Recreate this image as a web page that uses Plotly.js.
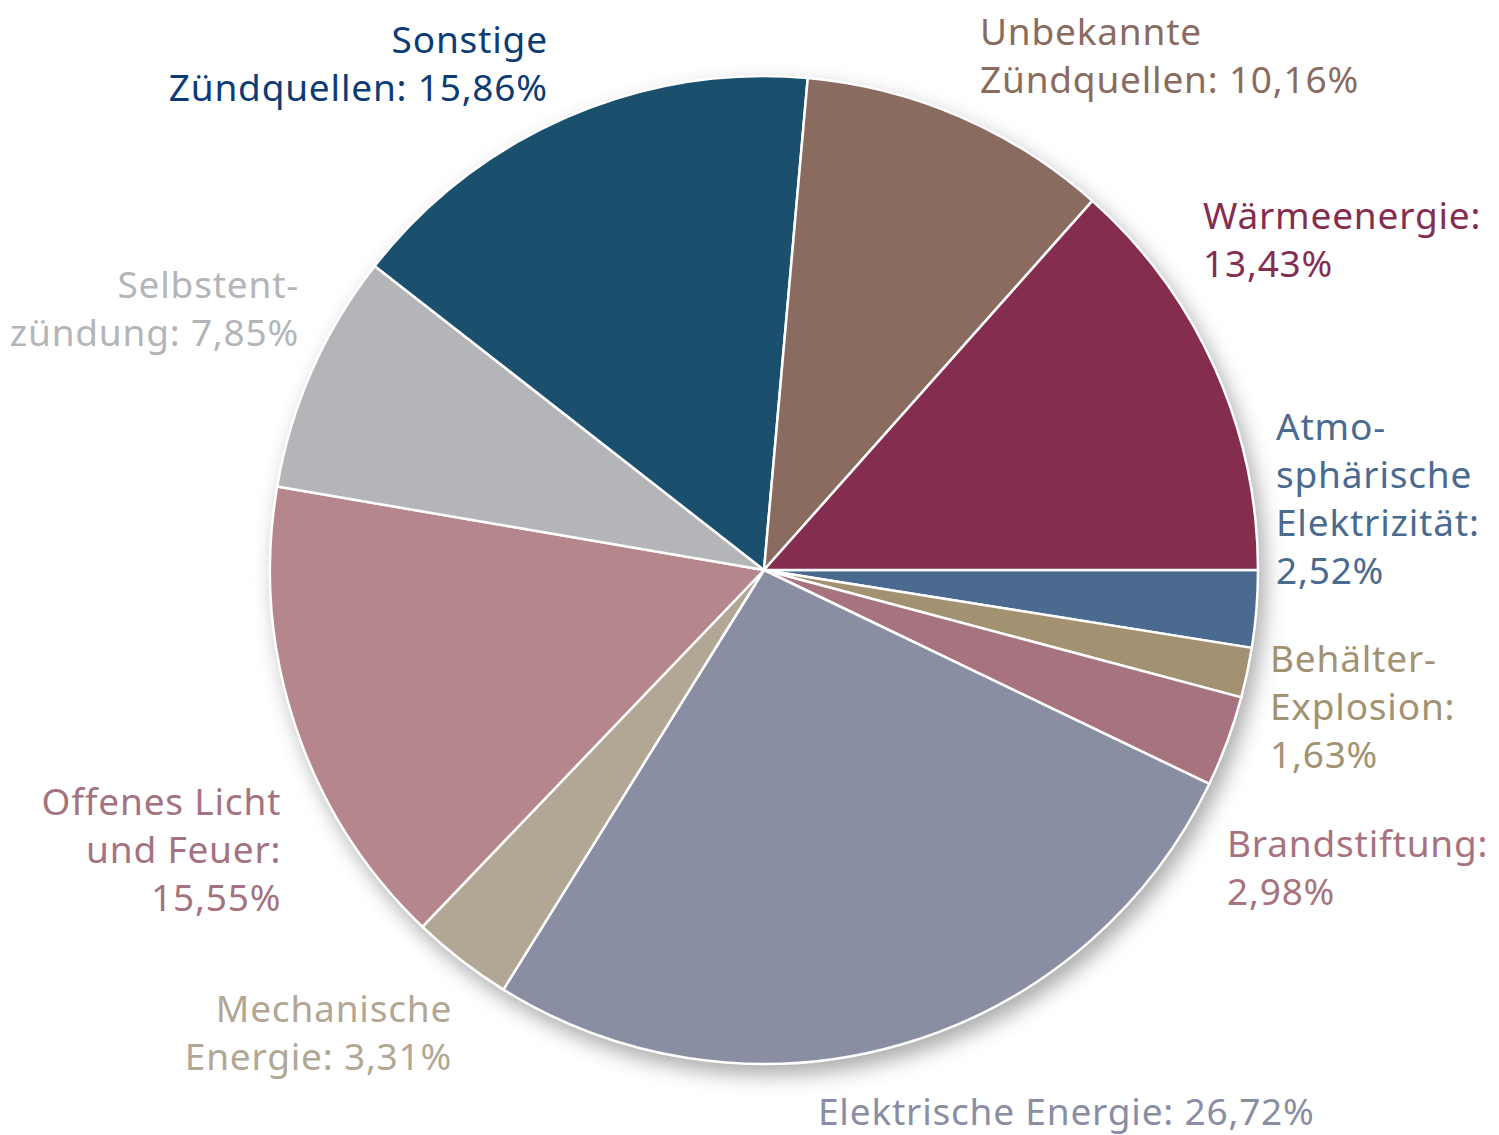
<!DOCTYPE html>
<html>
<head>
<meta charset="utf-8">
<script src="https://cdn.plot.ly/plotly-3.0.1.min.js"></script>
<style>
  html, body { margin: 0; padding: 0; background: #ffffff; }
  #chart { width: 1499px; height: 1135px; }
  #chart .main-svg:first-child { filter: drop-shadow(6px 10px 10px rgba(0,0,0,0.32)); }
  #chart .annotation-text { letter-spacing: 0.8px; }
</style>
</head>
<body>
<div id="chart"></div>
<script>
// Data (clockwise from 3 o'clock)
const labels = [
  "Atmosphärische Elektrizität",
  "Behälter-Explosion",
  "Brandstiftung",
  "Elektrische Energie",
  "Mechanische Energie",
  "Offenes Licht und Feuer",
  "Selbstentzündung",
  "Sonstige Zündquellen",
  "Unbekannte Zündquellen",
  "Wärmeenergie"
];
const values = [2.52, 1.63, 2.98, 26.72, 3.31, 15.55, 7.85, 15.86, 10.16, 13.43];
const sliceColors = ["#4a6a8f", "#a39272", "#a6737e", "#8a8ea3", "#b2a694", "#b5878d", "#b4b5b8", "#1b4f6e", "#8a6b5f", "#842d4f"];
const textColors  = ["#4a6a8f", "#a39272", "#a6737e", "#8a8ea3", "#b2a694", "#a3737f", "#b4b5b8", "#0d3b73", "#8a6b5f", "#842d4f"];
// label text lines (display)
const labelLines = [
  ["Atmo-", "sphärische", "Elektrizität:"],
  ["Behälter-", "Explosion:"],
  ["Brandstiftung:"],
  ["Elektrische Energie:"],
  ["Mechanische", "Energie:"],
  ["Offenes Licht", "und Feuer:"],
  ["Selbstent-", "zündung:"],
  ["Sonstige", "Zündquellen:"],
  ["Unbekannte", "Zündquellen:"],
  ["Wärmeenergie:"]
];
// label placement (pixel anchor, alignment)
const labelPos = [
  {x: 1274, y: 497, side: "left"},
  {x: 1268, y: 705, side: "left"},
  {x: 1225, y: 866, side: "left"},
  {x: 816,  y: 1110, side: "left"},
  {x: 454,  y: 1031, side: "right"},
  {x: 283,  y: 848, side: "right"},
  {x: 301,  y: 308, side: "right"},
  {x: 550,  y: 62,  side: "right"},
  {x: 978,  y: 54,  side: "left"},
  {x: 1201, y: 238, side: "left"}
];
// whether the percentage is appended to the last text line
const pctSameLine = [false, false, false, true, true, false, true, true, true, false];

const W = 1499, H = 1135;
const fmt = v => v.toFixed(2).replace(".", ",") + "%";

function buildText(i) {
  const lines = labelLines[i].slice();
  const pct = fmt(values[i]);
  if (pctSameLine[i]) {
    lines[lines.length - 1] += " " + pct;
  } else {
    lines.push(pct);
  }
  return lines.join("<br>");
}

const annotations = labels.map((l, i) => ({
  xref: "paper", yref: "paper",
  x: labelPos[i].x / W,
  y: 1 - labelPos[i].y / H,
  xanchor: labelPos[i].side === "left" ? "left" : "right",
  yanchor: "middle",
  align: labelPos[i].side,
  showarrow: false,
  text: buildText(i),
  font: {family: "Noto Sans, Lato, sans-serif", size: 37, color: textColors[i]}
}));

const cx = 764, cy = 570, r = 494;
const trace = {
  type: "pie",
  labels: labels,
  values: values,
  sort: false,
  direction: "clockwise",
  rotation: 90,
  textinfo: "none",
  hoverinfo: "label+percent",
  marker: {colors: sliceColors, line: {color: "#ffffff", width: 2.5}},
  domain: {
    x: [(cx - r) / W, (cx + r) / W],
    y: [1 - (cy + r) / H, 1 - (cy - r) / H]
  },
  showlegend: false
};

const layout = {
  width: W, height: H,
  margin: {l: 0, r: 0, t: 0, b: 0},
  paper_bgcolor: "rgba(0,0,0,0)",
  plot_bgcolor: "rgba(0,0,0,0)",
  showlegend: false,
  annotations: annotations
};

Plotly.newPlot("chart", [trace], layout, {displayModeBar: false, staticPlot: true});
</script>
</body>
</html>
